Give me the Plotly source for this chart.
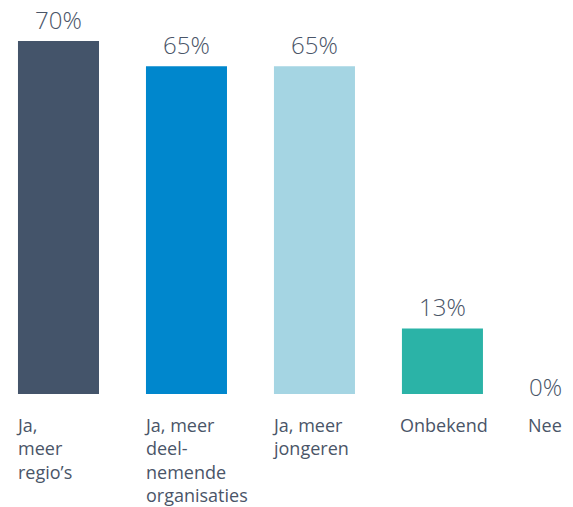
import plotly.graph_objects as go

categories = ["Ja,<br>meer<br>regio’s", "Ja, meer<br>deel-<br>nemende<br>organisaties",
              "Ja, meer<br>jongeren", "Onbekend", "Nee"]
values = [70, 65, 65, 13, 0]
value_labels = ["70%", "65%", "65%", "13%", "0%"]
colors = ["#44546A", "#0087CD", "#A5D5E3", "#2BB3A7", "#2BB3A7"]

TEXT = "#4A5568"
FONT = "Open Sans"
HALF_BAR = 40.5  # px, half of the bar width

x = list(range(len(values)))

fig = go.Figure()
fig.add_trace(go.Bar(x=x, y=values, marker=dict(color=colors, line=dict(width=0)),
                     hoverinfo="skip"))

for i, (v, lab) in enumerate(zip(values, value_labels)):
    last = i == len(values) - 1
    fig.add_annotation(
        x=i, y=v, text=lab, showarrow=False,
        xanchor="left" if last else "center",
        xshift=-HALF_BAR - 3 if last else 0,
        yanchor="bottom", yshift=-11 if last else 3,
        font=dict(family=FONT, size=24, color=TEXT, weight=300),
    )

for i, cat in enumerate(categories):
    fig.add_annotation(
        x=i, y=0, text=cat, showarrow=False, align="left",
        xanchor="left", xshift=-HALF_BAR - 4, yanchor="top", yshift=-17,
        font=dict(family=FONT, size=18, color=TEXT),
    )

fig.update_layout(
    width=573, height=507,
    margin=dict(l=0, r=0, t=0, b=113),
    paper_bgcolor="white", plot_bgcolor="white",
    bargap=0.367, showlegend=False,
    xaxis=dict(range=[-0.457, 4.02], visible=False),
    yaxis=dict(range=[0, 78.13], visible=False),
)

fig.write_html("out.html", config={"displayModeBar": False},
               post_script="document.body.style.margin = '0';")
